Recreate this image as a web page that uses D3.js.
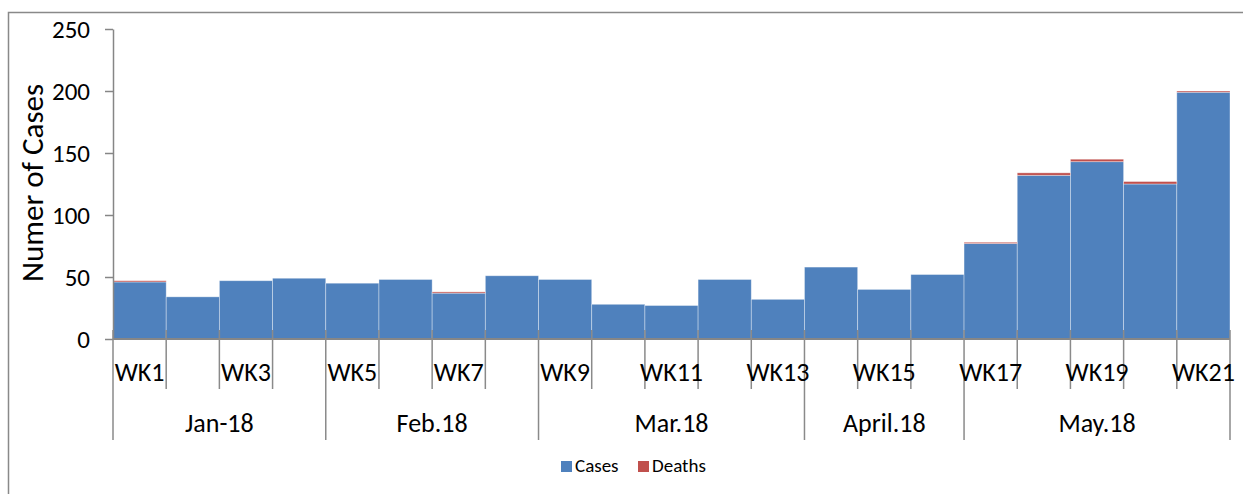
<!DOCTYPE html>
<html>
<head>
<meta charset="utf-8">
<script src="https://cdn.jsdelivr.net/npm/d3@7"></script>
<style>
  body { margin: 0; background: #fff; }
  svg text { font-family: Calibri, Carlito, Lato, "Open Sans", sans-serif; fill: #000; }
</style>
</head>
<body>
<div id="chart"></div>
<script>
let weeks = ["WK1", "WK2", "WK3", "WK4", "WK5", "WK6", "WK7", "WK8", "WK9", "WK10", "WK11",
    "WK12", "WK13", "WK14", "WK15", "WK16", "WK17", "WK18", "WK19", "WK20", "WK21"];
let cases = [46, 34, 47, 49, 45, 48, 37, 51, 48, 28, 27, 48, 32, 58, 40, 52, 77, 132, 143, 125, 199];
let deaths = [1, 0, 0, 0, 0, 0, 1, 0, 0, 0, 0, 0, 0, 0, 0, 0, 1, 2, 2, 2, 1];
let months = ["Jan-18", "Feb.18", "Mar.18", "April.18", "May.18"];
let monthWeeks = [4, 4, 5, 3, 5];
let yTicks = [0, 50, 100, 150, 200, 250];
let seriesNames = ["Cases", "Deaths"];
let colors = ["#4F81BD", "#C0504D"];

let width = 1243;
let height = 494;
let plotLeft = 113, plotRight = 1230, plotTop = 29, plotBottom = 339;

let svg = d3.select("#chart")
    .append("svg")
    .attr("width", width)
    .attr("height", height);

// outer frame
svg.append("rect")
    .attr("x", 8.5)
    .attr("y", 12.5)
    .attr("width", 1260)
    .attr("height", 500)
    .attr("fill", "none")
    .attr("stroke", "#898989")
    .attr("stroke-width", 1.5);

let data = weeks.map((w, i) => ({ week: w, Cases: cases[i], Deaths: deaths[i] }));
let stacked = d3.stack().keys(seriesNames)(data);

let x = d3.scaleBand()
    .domain(weeks)
    .range([plotLeft, plotRight])
    .padding(0);

let y = d3.scaleLinear()
    .domain([0, 250])
    .range([plotBottom, plotTop]);

// bars
svg.selectAll("g.layer")
    .data(stacked)
    .enter()
    .append("g")
    .attr("class", "layer")
    .attr("fill", (d, i) => colors[i])
    .selectAll("rect")
    .data(d => d)
    .enter()
    .append("rect")
    .attr("x", d => x(d.data.week))
    .attr("y", d => y(d[1]))
    .attr("width", x.bandwidth())
    .attr("height", d => y(d[0]) - y(d[1]))
    .attr("stroke", "rgba(255,255,255,0.45)")
    .attr("stroke-width", 0.8);

// y axis
let yAxis = d3.axisLeft(y)
    .tickValues(yTicks)
    .tickSize(8)
    .tickSizeOuter(0);

let yg = svg.append("g")
    .attr("transform", "translate(" + plotLeft + ",0)")
    .call(yAxis);
yg.selectAll("line, path").attr("stroke", "#868686").attr("stroke-width", 1.5);
yg.selectAll("text")
    .attr("font-size", 25)
    .attr("x", -23)
    .attr("fill", "#000")
    .style("font-family", "Calibri, Carlito, Lato, 'Open Sans', sans-serif");

svg.append("text")
    .text("Numer of Cases")
    .attr("transform", "translate(43,183) rotate(-90)")
    .attr("text-anchor", "middle")
    .attr("font-size", 31);

// x axis line
svg.append("line")
    .attr("x1", plotLeft).attr("x2", plotRight)
    .attr("y1", plotBottom).attr("y2", plotBottom)
    .attr("stroke", "#868686")
    .attr("stroke-width", 2);

// week tick lines and labels
let boundaries = weeks.map(w => x(w)).concat([plotRight]);
let monthEdges = [0];
monthWeeks.forEach(n => monthEdges.push(monthEdges[monthEdges.length - 1] + n));

svg.selectAll("line.wk")
    .data(boundaries)
    .enter()
    .append("line")
    .attr("class", "wk")
    .attr("x1", d => d).attr("x2", d => d)
    .attr("y1", plotBottom - 9)
    .attr("y2", (d, i) => monthEdges.includes(i) ? 440 : 389)
    .attr("stroke", "#8a8a8a")
    .attr("stroke-width", 1.5);

svg.selectAll("text.wk")
    .data(weeks.filter((w, i) => i % 2 === 0))
    .enter()
    .append("text")
    .attr("class", "wk")
    .text(d => d)
    .attr("x", d => x(d) + x.bandwidth() / 2)
    .attr("y", 381)
    .attr("text-anchor", "middle")
    .attr("font-size", 26);

svg.selectAll("text.month")
    .data(months)
    .enter()
    .append("text")
    .attr("class", "month")
    .text(d => d)
    .attr("x", (d, i) => (boundaries[monthEdges[i]] + boundaries[monthEdges[i + 1]]) / 2)
    .attr("y", 432)
    .attr("text-anchor", "middle")
    .attr("font-size", 26);

// legend
let legend = svg.append("g")
    .attr("transform", "translate(561,461)");
let legendX = [0, 77];
seriesNames.forEach((name, i) => {
    legend.append("rect")
        .attr("x", legendX[i])
        .attr("y", 0)
        .attr("width", 11)
        .attr("height", 11)
        .attr("fill", colors[i]);
    legend.append("text")
        .text(name)
        .attr("x", legendX[i] + 14)
        .attr("y", 11)
        .attr("font-size", 19);
});
</script>
</body>
</html>
